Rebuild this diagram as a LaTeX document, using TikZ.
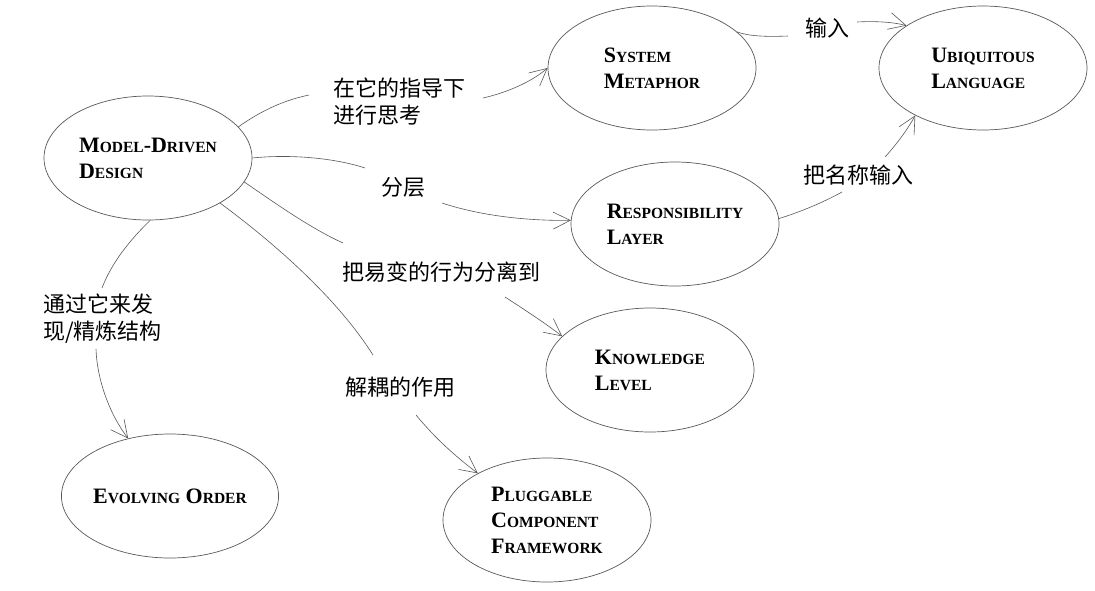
\documentclass[tikz,border=0pt]{standalone}
\usepackage{fontspec}
\setmainfont{Liberation Serif}
\newfontfamily\cjk{Noto Sans CJK SC}
\usetikzlibrary{arrows.meta,shapes.geometric}
\newcommand\sm[1]{{\fontsize{15.5}{15.5}\selectfont #1}}
\begin{document}
\begin{tikzpicture}[x=1pt,y=-1pt,
  ell/.style={draw=black!65, line width=0.7pt, ellipse, minimum width=208pt,
    minimum height=124pt, inner sep=0pt, align=left,
    font=\fontsize{22}{26}\selectfont\bfseries},
  lab/.style={anchor=west, inner sep=0pt, align=left,
    font=\cjk\fontsize{22}{27}\selectfont},
  con/.style={draw=black!65, line width=0.6pt},
  arr/.style={con, -{Straight Barb[length=17pt,width=17pt]}}]
\useasboundingbox (0,0) rectangle (1095,590);
\fill[white] (0,0) rectangle (1095,590);

% ellipses
\node[ell] (mdd) at (148,158) {M\sm{ODEL}-D\sm{RIVEN}\\D\sm{ESIGN}};
\node[ell] (sm)  at (652,68)  {S\sm{YSTEM}\\M\sm{ETAPHOR}};
\node[ell] (ul)  at (983,68)  {U\sm{BIQUITOUS}\\L\sm{ANGUAGE}};
\node[ell] (rl)  at (675,224) {R\sm{ESPONSIBILITY}\\L\sm{AYER}};
\node[ell] (kl)  at (650,370) {K\sm{NOWLEDGE}\\L\sm{EVEL}};
\node[ell] (pcf) at (547,520) {P\sm{LUGGABLE}\\C\sm{OMPONENT}\\F\sm{RAMEWORK}};
\node[ell] (eo)  at (170,496) {E\sm{VOLVING} O\sm{RDER}};

% labels
\node[lab] (l1) at (333,101.5) {在它的指导下\\进行思考};
\node[lab] (l2) at (805,28) {输入};
\node[lab] (l3) at (381,187) {分层};
\node[lab] (l4) at (803,175) {把名称输入};
\node[lab] (l5) at (342,272) {把易变的行为分离到};
\node[lab] (l6) at (345,387) {解耦的作用};
\node[lab] (l7) at (43,319) {通过它来发\\现/精炼结构};

% free ends beside the labels
\coordinate (a1) at (309,95);  \coordinate (b1) at (483,98);
\coordinate (a2) at (788,36);  \coordinate (b2) at (857,22);
\coordinate (a3) at (365,168); \coordinate (b3) at (442,203);
\coordinate (a4) at (842,192); \coordinate (b4) at (885,157);
\coordinate (a5) at (343,243); \coordinate (b5) at (505,297);
\coordinate (a6) at (373,355); \coordinate (b6) at (416,415);
\coordinate (a7) at (102,288); \coordinate (b7) at (96,349);

% connectors
\draw[con] (mdd.19) .. controls (262,110) and (285,100) .. (a1);
\draw[arr] (b1) .. controls (505,93) and (530,83) .. (sm.180);

\draw[con] (sm.23) .. controls (748,36) and (765,37) .. (a2);
\draw[arr] (b2) .. controls (875,21) and (893,22) .. (ul.151);

\draw[con] (mdd.0) .. controls (290,154) and (335,158) .. (a3);
\draw[arr] (b3) .. controls (475,214) and (520,221) .. (rl.178);

\draw[con] (rl.3) .. controls (800,212) and (822,203) .. (a4);
\draw[arr] (b4) .. controls (895,146) and (906,132) .. (ul.215);

\draw[con] (mdd.346) .. controls (275,203) and (310,228) .. (a5);
\draw[arr] (b5) .. controls (525,310) and (545,323) .. (kl.159);

\draw[con] (mdd.328) .. controls (270,240) and (335,295) .. (a6);
\draw[arr] (b6) .. controls (435,438) and (455,456) .. (pcf.146);

\draw[con] (mdd.272) .. controls (130,240) and (112,262) .. (a7);
\draw[arr] (b7) .. controls (97,380) and (110,415) .. (eo.126);
\end{tikzpicture}
\end{document}
